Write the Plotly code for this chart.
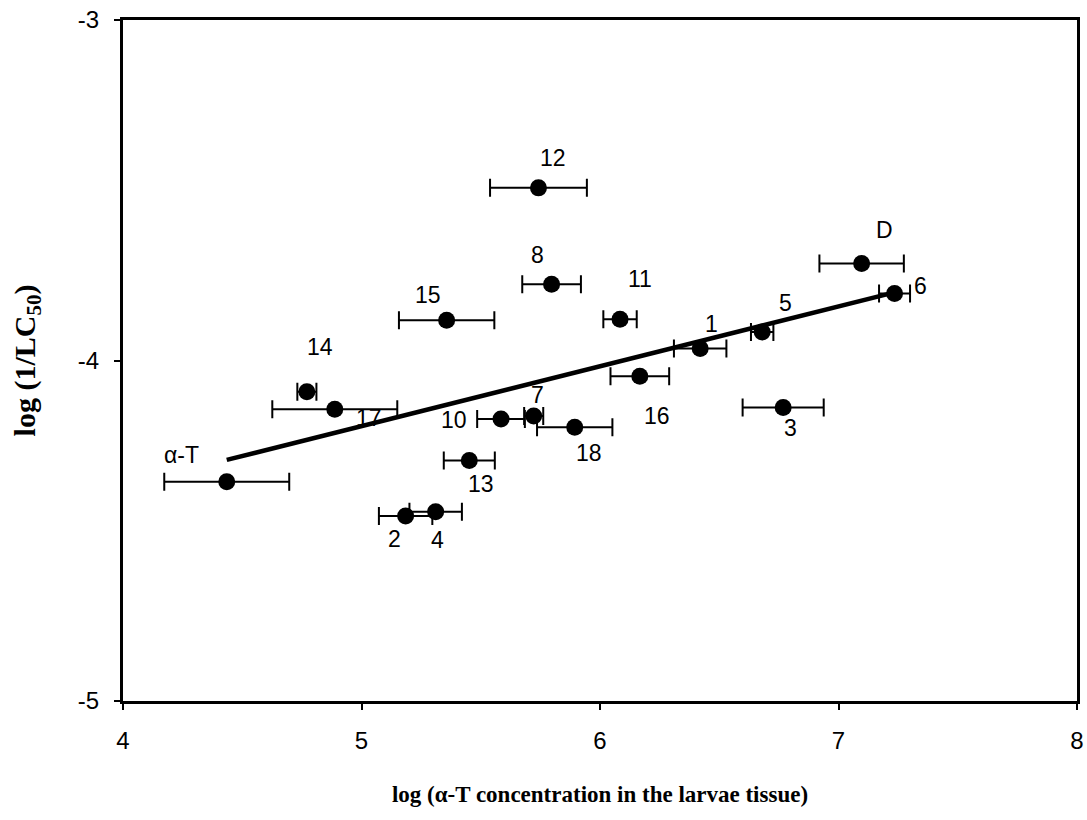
import plotly.graph_objects as go

# ---- data ----
labels = ["α-T", "1", "2", "3", "4", "5", "6", "7", "8", "10",
          "11", "12", "13", "14", "15", "16", "17", "18", "D"]
x_conc = [4.435, 6.420, 5.185, 6.768, 5.311, 6.680, 7.235, 5.722, 5.797, 5.585,
          6.084, 5.742, 5.452, 4.771, 5.357, 6.167, 4.888, 5.894, 7.097]
y_lc50 = [-4.356, -3.965, -4.457, -4.138, -4.444, -3.916, -3.803, -4.163, -3.776, -4.172,
          -3.879, -3.493, -4.294, -4.092, -3.882, -4.046, -4.143, -4.196, -3.715]
x_err = [0.262, 0.110, 0.112, 0.170, 0.110, 0.047, 0.065, 0.040, 0.123, 0.100,
         0.070, 0.203, 0.107, 0.040, 0.200, 0.123, 0.262, 0.158, 0.177]

fit_x = [4.435, 7.235]
fit_y = [-4.292, -3.800]

x_ticks = [4, 5, 6, 7, 8]
y_ticks = [-5, -4, -3]

# label offsets (pixels; dx right, dy down)
label_offsets = {
    "α-T": (-45, -27), "1": (11, -25), "2": (-11, 23), "3": (7, 21), "4": (2, 28),
    "5": (23, -29), "6": (26, -7), "7": (4, -21), "8": (-14, -29), "10": (-47, 1),
    "11": (20, -40), "12": (15, -30), "13": (12, 23), "14": (13, -45), "15": (-19, -25),
    "16": (17, 40), "17": (34, 9), "18": (14, 26), "D": (23, -33),
}

fig = go.Figure()

fig.add_trace(go.Scatter(
    x=fit_x, y=fit_y, mode="lines",
    line=dict(color="black", width=4.5),
    showlegend=False, hoverinfo="skip",
))

fig.add_trace(go.Scatter(
    x=x_conc, y=y_lc50, mode="markers",
    marker=dict(color="black", size=17),
    error_x=dict(type="data", array=x_err, visible=True,
                 color="black", thickness=2, width=9),
    showlegend=False,
))

for name, xv, yv in zip(labels, x_conc, y_lc50):
    dx, dy = label_offsets[name]
    fig.add_annotation(
        x=xv, y=yv, text=name, showarrow=False,
        xshift=dx, yshift=-dy,
        font=dict(family="Liberation Sans, Arial", size=23, color="black"),
        xanchor="center", yanchor="middle",
    )

axis_common = dict(
    showline=True, linecolor="black", linewidth=3, mirror=True,
    ticks="outside", ticklen=6, tickwidth=2, tickcolor="black",
    showgrid=False, zeroline=False,
    tickfont=dict(family="Liberation Sans, Arial", size=24, color="black"),
)

fig.update_xaxes(
    range=[4, 8], tickvals=x_ticks, ticktext=[str(t) for t in x_ticks],
    ticklabelstandoff=10,
    title=dict(text="<b>log (α-T concentration in the larvae tissue)</b>",
               font=dict(family="Liberation Serif, Times New Roman", size=23, color="black"),
               standoff=34),
    **axis_common,
)
fig.update_yaxes(
    range=[-5, -3], tickvals=y_ticks, ticktext=[str(t) for t in y_ticks],
    ticklabelstandoff=10,
    title=dict(text="<b>log (1/LC<sub>50</sub>)</b>",
               font=dict(family="Liberation Serif, Times New Roman", size=30, color="black"),
               standoff=34),
    **axis_common,
)

fig.update_layout(
    width=1087, height=820,
    margin=dict(l=123, r=10, t=20, b=119, autoexpand=False),
    plot_bgcolor="white", paper_bgcolor="white",
)

fig.write_html("out.html")
